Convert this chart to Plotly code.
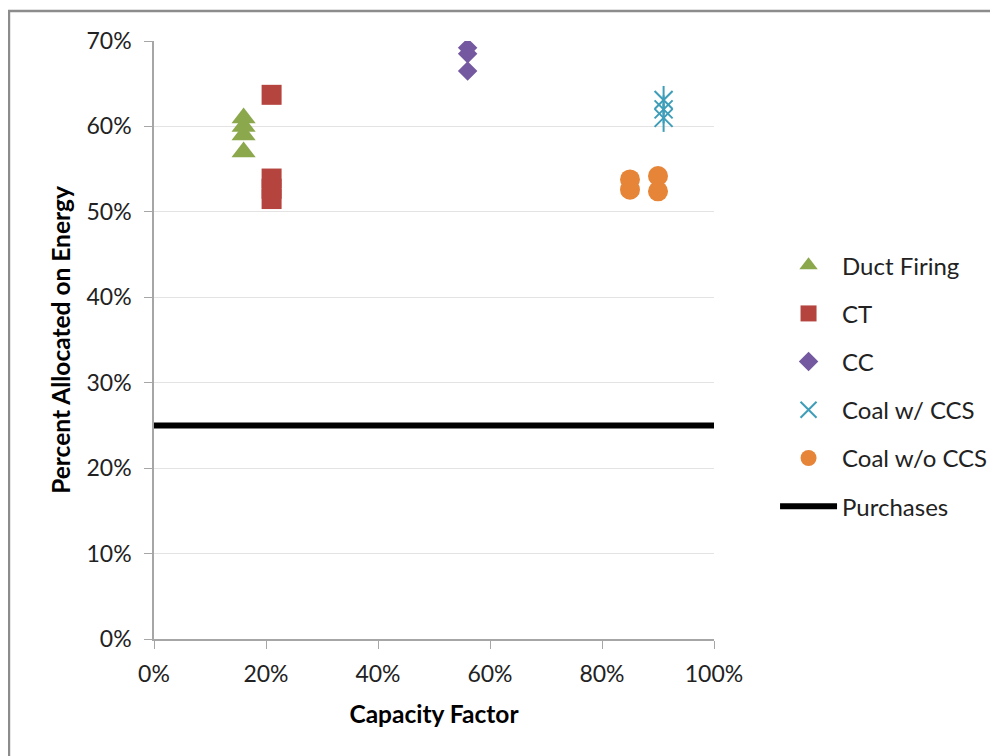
import plotly.graph_objects as go

# Data
duct_x = [0.16, 0.16, 0.16, 0.16]
duct_y = [0.61, 0.60, 0.59, 0.57]
ct_x = [0.21, 0.21, 0.21, 0.21]
ct_y = [0.637, 0.539, 0.527, 0.515]
cc_x = [0.56, 0.56, 0.56]
cc_y = [0.692, 0.685, 0.665]
ccs_x = [0.91, 0.91, 0.91]
ccs_y = [0.631, 0.620, 0.610]
noccs_x = [0.85, 0.85, 0.90, 0.90]
noccs_y = [0.538, 0.526, 0.542, 0.524]
purch_x = [0.0, 1.0]
purch_y = [0.25, 0.25]

y_ticks = [0, 0.1, 0.2, 0.3, 0.4, 0.5, 0.6, 0.7]
x_ticks = [0, 0.2, 0.4, 0.6, 0.8, 1.0]

FONT = "Lato"
TXT = "#222222"

fig = go.Figure()
fig.add_trace(go.Scatter(x=duct_x, y=duct_y, mode="markers", name="Duct Firing",
                         legendgroup="a",
                         marker=dict(symbol="triangle-up", size=21, color="#8BA84D")))
fig.add_trace(go.Scatter(x=ct_x, y=ct_y, mode="markers", name="CT", legendgroup="b",
                         marker=dict(symbol="square", size=20, color="#B5443F")))
fig.add_trace(go.Scatter(x=cc_x, y=cc_y, mode="markers", name="CC", legendgroup="c",
                         marker=dict(symbol="diamond", size=15, color="#7459A0")))
fig.add_trace(go.Scatter(x=ccs_x, y=ccs_y, mode="markers", name="Coal w/ CCS", legendgroup="d",
                         marker=dict(symbol="x-thin-open", size=18, color="#3E9DB8",
                                     line=dict(width=2, color="#3E9DB8"))))
fig.add_trace(go.Scatter(x=ccs_x, y=ccs_y, mode="markers", name="Coal w/ CCS", legendgroup="d",
                         showlegend=False,
                         marker=dict(symbol="line-ns-open", size=20, color="#3E9DB8",
                                     line=dict(width=2, color="#3E9DB8"))))
fig.add_trace(go.Scatter(x=noccs_x, y=noccs_y, mode="markers", name="Coal w/o CCS", legendgroup="e",
                         marker=dict(symbol="circle", size=20, color="#E68538")))
fig.add_trace(go.Scatter(x=purch_x, y=purch_y, mode="lines", name="Purchases", legendgroup="f",
                         line=dict(color="black", width=6)))

fig.update_layout(
    width=998, height=756,
    margin=dict(l=146, r=292, t=33, b=125),
    paper_bgcolor="white", plot_bgcolor="white",
    font=dict(family=FONT, size=24, color=TXT),
    legend=dict(x=1.109, y=0.662, xanchor="left", yanchor="top",
                font=dict(family=FONT, size=24, color=TXT),
                tracegroupgap=14, itemwidth=57, bgcolor="rgba(0,0,0,0)"),
    xaxis=dict(range=[0, 1], tickvals=x_ticks, tickformat=".0%",
               showgrid=False, zeroline=False,
               showline=True, linecolor="#A6A6A6", linewidth=1.5,
               ticks="outside", ticklen=8, tickcolor="#A6A6A6",
               ticklabelstandoff=6,
               tickfont=dict(family=FONT, size=23, color=TXT),
               title=dict(text="<b>Capacity Factor</b>", standoff=20,
                          font=dict(family=FONT, size=24.5, color="black"))),
    yaxis=dict(range=[0, 0.7], tickvals=y_ticks, tickformat=".0%",
               showgrid=True, gridcolor="#E3E3E3", gridwidth=1, zeroline=False,
               showline=True, linecolor="#A6A6A6", linewidth=1.5,
               ticks="outside", ticklen=8, tickcolor="#A6A6A6",
               ticklabelstandoff=8,
               tickfont=dict(family=FONT, size=23, color=TXT),
               title=dict(text="<b>Percent Allocated on Energy</b>", standoff=9,
                          font=dict(family=FONT, size=24.5, color="black"))),
    shapes=[dict(type="rect", xref="paper", yref="paper",
                 x0=-0.259, x1=1.6, y0=-0.4, y1=1.050,
                 line=dict(color="#8C8C8C", width=2.5), fillcolor="rgba(0,0,0,0)",
                 layer="below")],
)

fig.write_html("out.html")
